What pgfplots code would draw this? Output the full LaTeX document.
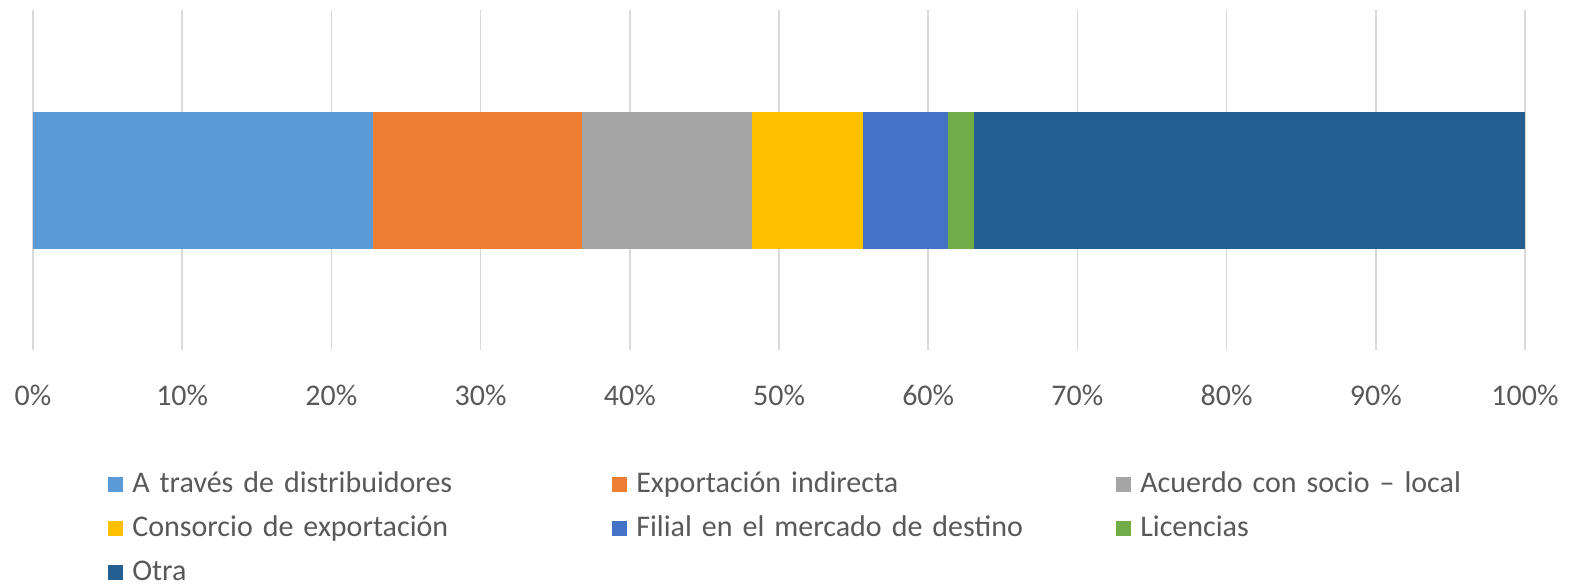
\documentclass[border=0pt]{standalone}
\usepackage{fontspec}
\setmainfont{Carlito}
\usepackage{pgfplots}
\pgfplotsset{compat=1.18}
\definecolor{c1}{HTML}{5B9BD5}
\definecolor{c2}{HTML}{ED7D31}
\definecolor{c3}{HTML}{A5A5A5}
\definecolor{c4}{HTML}{FFC000}
\definecolor{c5}{HTML}{4472C4}
\definecolor{c6}{HTML}{70AD47}
\definecolor{c7}{HTML}{255E91}
\definecolor{txt}{HTML}{595959}
\definecolor{grd}{HTML}{D9D9D9}
\begin{document}
\fontsize{15pt}{17pt}\selectfont
\begin{tikzpicture}
\useasboundingbox (-16.5pt,-117.5pt) rectangle (770.5pt,175pt);
\begin{axis}[
  at={(0,0)}, anchor=south west,
  scale only axis, width=746pt, height=170pt,
  xbar stacked, bar width=68.5pt,
  xmin=0, xmax=100, ymin=0, ymax=1,
  xtick={0,10,...,100},
  xticklabel={\pgfmathprintnumber{\tick}\%},
  /pgf/number format/assume math mode=true,
  xticklabel style={font=\fontsize{15pt}{17pt}\selectfont, text=txt, yshift=-12.5pt},
  ytick=\empty,
  xmajorgrids, grid style={grd, line width=0.8pt},
  axis line style={draw=none},
  major tick style={draw=none},
  legend columns=3,
  legend image code/.code={\path[fill,#1,draw=none] (0pt,-1pt) rectangle (7.5pt,6.5pt);},
  legend style={draw=none, at={(0.0462,-0.3353)}, anchor=north west,
    font=\fontsize{15pt}{17pt}\selectfont, text=txt,
    row sep=0pt,
    /tikz/every odd column/.append style={column sep=4.5pt},
    /tikz/every even column/.append style={column sep=0pt},
    nodes={text width=240pt, inner xsep=0pt, inner ysep=0pt, text height=12pt, text depth=10pt, align=left}},
  legend cell align=left,
]
\addplot[fill=c1, draw=none] coordinates {(22.8,0.5)};
\addplot[fill=c2, draw=none] coordinates {(14.0,0.5)};
\addplot[fill=c3, draw=none] coordinates {(11.4,0.5)};
\addplot[fill=c4, draw=none] coordinates {(7.4,0.5)};
\addplot[fill=c5, draw=none] coordinates {(5.7,0.5)};
\addplot[fill=c6, draw=none] coordinates {(1.8,0.5)};
\addplot[fill=c7, draw=none] coordinates {(36.9,0.5)};
\legend{A través de distribuidores, Exportación indirecta, Acuerdo con socio – local, Consorcio de exportación, Filial en el mercado de destino, Licencias, Otra}
\end{axis}
\end{tikzpicture}
\end{document}
